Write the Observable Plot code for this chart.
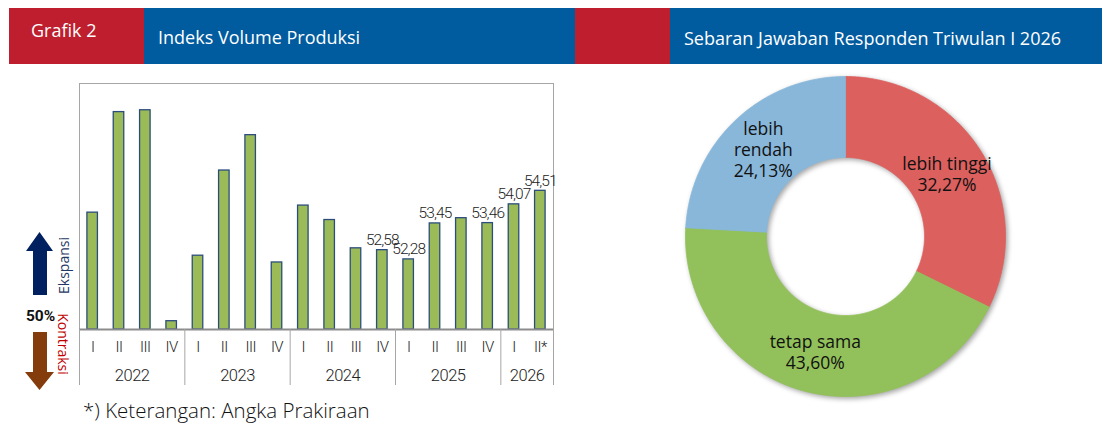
<!DOCTYPE html>
<html><head><meta charset="utf-8">
<script src="https://cdn.jsdelivr.net/npm/d3@7"></script>
<script src="https://cdn.jsdelivr.net/npm/@observablehq/plot@0.6"></script>
<style>
html,body{margin:0;padding:0;background:#fff}
body{width:1106px;height:425px;position:relative;overflow:hidden;font-family:"Open Sans",sans-serif}
.hdr{position:absolute;top:8px;height:56px}
.htxt{position:absolute;color:#fff;font-size:18px;line-height:1;white-space:nowrap}
#bars,#axis,#donut{position:absolute}
#bars{left:0;top:70px}
#axis{left:0;top:329px}
#donut{left:675px;top:66px}
#donut g[aria-label="line"]{filter:drop-shadow(2px 2px 2.5px rgba(0,0,0,0.35))}
#caption{position:absolute;left:83px;top:400px;font-size:20.5px;font-weight:300;line-height:1;color:#111;white-space:nowrap}
svg{overflow:visible}
</style></head><body>
<div class="hdr" style="left:9px;width:135px;background:#BE1E2D"></div>
<div class="hdr" style="left:144px;width:431px;background:#005B9F"></div>
<div class="hdr" style="left:575px;width:95px;background:#BE1E2D"></div>
<div class="hdr" style="left:670px;width:432px;background:#005B9F"></div>
<div class="htxt" style="left:31px;top:21px">Grafik 2</div>
<div class="htxt" style="left:158px;top:28px">Indeks Volume Produksi</div>
<div class="htxt" style="left:684px;top:29px">Sebaran Jawaban Responden Triwulan I 2026</div>

<svg id="arrows" width="80" height="425" style="position:absolute;left:0;top:0">
  <polygon points="39.5,232 53,251 47,251 47,295 33,295 33,251 26,251" fill="#002060"/>
  <polygon points="33,332 47,332 47,372 54,372 39.5,390 25,372 33,372" fill="#843C0C"/>
  <text transform="translate(63,265.5) rotate(-90)" text-anchor="middle" dominant-baseline="central" font-size="14" fill="#1F3864" font-family="Open Sans">Ekspansi</text>
  <text transform="translate(63,344) rotate(90)" text-anchor="middle" dominant-baseline="central" font-size="14" fill="#C00000" font-family="Open Sans">Kontraksi</text>
  <text x="40.5" y="316" text-anchor="middle" dominant-baseline="central" font-size="15.5" font-weight="bold" fill="#111" font-family="Roboto">50%</text>
</svg>

<div id="bars"></div>
<div id="axis"></div>
<div id="donut"></div>
<div id="caption">*) Keterangan: Angka Prakiraan</div>

<script>
// ---- Bar chart data (Indeks Volume Produksi) ----
const years = ["2022", "2023", "2024", "2025", "2026"];
const quartersPerYear = [4, 4, 4, 4, 2];
const quarterLabels = ["I","II","III","IV","I","II","III","IV","I","II","III","IV","I","II","III","IV","I","II*"];
const indexValues = [53.80, 57.07, 57.13, 50.27, 52.40, 55.17, 56.32, 52.18, 54.03, 53.56, 52.64, 52.58, 52.28, 53.45, 53.62, 53.46, 54.07, 54.51];
const showValueLabel = [0,0,0,0,0,0,0,0,0,0,0,1,1,1,0,1,1,1];
const threshold = 50;
const yMax = 58;

// ---- Donut data (Sebaran Jawaban Responden) ----
const respCategories = ["lebih tinggi", "tetap sama", "lebih rendah"];
const respLabels = ["lebih tinggi", "tetap sama", "lebih\nrendah"];
const respShares = [32.27, 43.60, 24.13];
const respColors = ["#DC605E", "#92C05A", "#88B7DA"];

const fmt = v => d3.format(".2f")(v).replace(".", ",");
const narrow = 'Roboto,sans-serif';
const n = indexValues.length;
const bars = indexValues.map((v, i) => ({i, v, q: quarterLabels[i], show: showValueLabel[i] === 1}));

const main = Plot.plot({
  width: 575, height: 260,
  marginLeft: 79, marginRight: 22, marginTop: 13, marginBottom: 1,
  x: {domain: [0, n], axis: null},
  y: {domain: [threshold, yMax], axis: null},
  style: {fontFamily: narrow, fontSize: "15px", fontWeight: 300, letterSpacing: "-0.9px", color: "#222", background: "transparent"},
  marks: [
    Plot.frame({stroke: "#a6a6a6"}),
    Plot.rect(bars, {x1: d => d.i, x2: d => d.i + 1, y1: threshold, y2: "v",
      insetLeft: 7.9, insetRight: 7.9, fill: "#9BBB59", stroke: "#2C4D7C", strokeWidth: 1.3}),
    Plot.ruleY([threshold], {stroke: "#8c8c8c", strokeWidth: 2}),
    Plot.text(bars.filter(d => d.show), {x: d => d.i + 0.5, y: "v", text: d => fmt(d.v),
      lineAnchor: "bottom", dy: -5, fill: "#222", fontSize: 15.5})
  ]
});
document.getElementById("bars").appendChild(main);

const bounds = [0, ...d3.cumsum(quartersPerYear)];
const yearRows = years.map((y, k) => ({y, mid: (bounds[k] + bounds[k + 1]) / 2}));
const axisPanel = Plot.plot({
  width: 575, height: 57,
  marginLeft: 79, marginRight: 22, marginTop: 0, marginBottom: 1,
  x: {domain: [0, n], axis: null},
  y: {type: "point", domain: ["quarter", "year"], range: [18, 46], padding: 0, axis: null},
  style: {fontFamily: narrow, fontSize: "15px", fontWeight: 300, letterSpacing: "-0.5px", color: "#222", background: "transparent"},
  marks: [
    Plot.ruleX(bounds, {stroke: "#a6a6a6"}),
    Plot.text(bars, {x: d => d.i + 0.5, y: () => "quarter", text: "q", fill: "#222"}),
    Plot.text(yearRows, {x: "mid", y: () => "year", text: "y", fill: "#222", fontSize: 16.5})
  ]
});
document.getElementById("axis").appendChild(axisPanel);

// ---- Donut ----
const total = d3.sum(respShares);
const innerRatio = 0.494;
let cum = 0;
const slices = respShares.map((s, k) => {
  const a0 = cum / total * 2 * Math.PI; cum += s;
  const a1 = cum / total * 2 * Math.PI;
  return {k, a0, a1, cat: respCategories[k]};
});
const ringPts = slices.flatMap(sl => {
  const steps = Math.max(2, Math.ceil((sl.a1 - sl.a0) / (Math.PI / 360)));
  const pts = [];
  for (let j = 0; j <= steps; j++) {
    const a = sl.a0 + (sl.a1 - sl.a0) * j / steps;
    pts.push({cat: sl.cat, x: Math.sin(a), y: Math.cos(a)});
  }
  for (let j = steps; j >= 0; j--) {
    const a = sl.a0 + (sl.a1 - sl.a0) * j / steps;
    pts.push({cat: sl.cat, x: innerRatio * Math.sin(a), y: innerRatio * Math.cos(a)});
  }
  pts.push({cat: sl.cat, x: Math.sin(sl.a0), y: Math.cos(sl.a0)});
  return pts;
});
const labelPts = slices.map(sl => {
  const m = (sl.a0 + sl.a1) / 2, r = (1 + innerRatio) / 2;
  return {x: r * Math.sin(m), y: r * Math.cos(m), text: respLabels[sl.k] + "\n" + fmt(respShares[sl.k]) + "%"};
});
const donut = Plot.plot({
  width: 340, height: 340, margin: 10,
  x: {domain: [-1, 1], axis: null},
  y: {domain: [-1, 1], axis: null},
  color: {domain: respCategories, range: respColors},
  style: {fontFamily: '"Open Sans",sans-serif', background: "transparent"},
  marks: [
    Plot.line(ringPts, {x: "x", y: "y", z: "cat", fill: "cat", stroke: "cat", strokeWidth: 0.8}),
    Plot.text(labelPts, {x: "x", y: "y", text: "text", fontSize: 17.5, lineHeight: 1.2, fill: "#111"})
  ]
});
document.getElementById("donut").appendChild(donut);
</script>
</body></html>
